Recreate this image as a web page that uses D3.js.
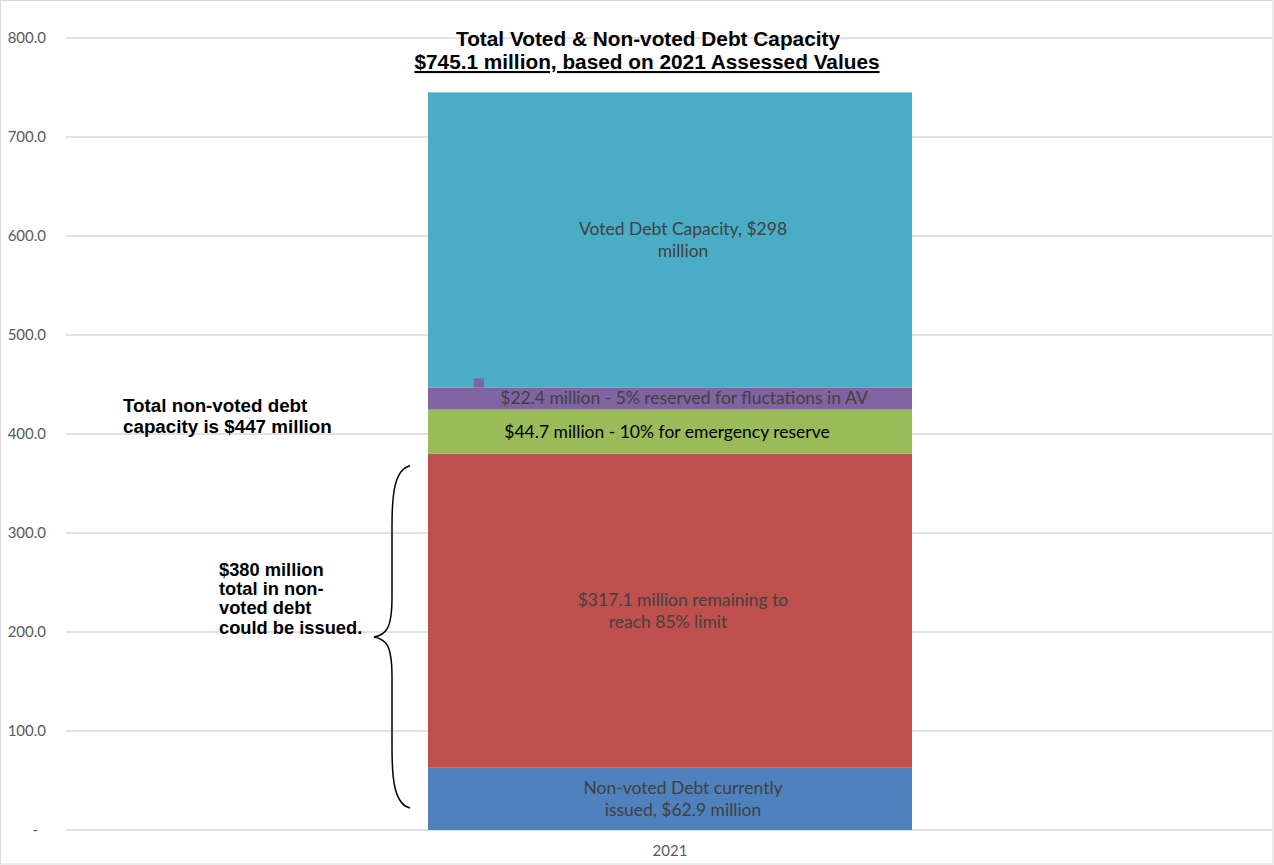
<!DOCTYPE html>
<html lang="en">
<head>
    <meta charset="UTF-8">
    <title>Total Voted & Non-voted Debt Capacity</title>
    <script src="https://d3js.org/d3.v7.min.js"></script>
    <style>
        body { margin: 0; background: #fff; }
        svg { display: block; }
    </style>
</head>
<body>
    <svg width="1274" height="865"></svg>
    <script>
        // Daten (Millionen $)
        var categories = ["2021"];
        var segmentNames = ["Non-voted Debt currently issued", "Remaining to 85% limit", "Emergency reserve", "AV fluctuations", "Voted Debt Capacity"];
        var segmentValues = [62.9, 317.1, 44.7, 22.4, 298.0];
        var segmentColors = ["#4F81BD", "#C0504D", "#9BBB59", "#8064A2", "#4BACC6"];
        var segmentLabels = [
            ["Non-voted Debt currently", "issued, $62.9 million"],
            ["$317.1 million remaining to", "reach 85% limit"],
            ["$44.7 million - 10% for emergency reserve"],
            ["$22.4 million - 5% reserved  for fluctations in AV"],
            ["Voted Debt Capacity, $298", "million"]
        ];
        var yTicks = [0, 100, 200, 300, 400, 500, 600, 700, 800];
        var titleLines = ["Total Voted & Non-voted Debt Capacity", "$745.1 million, based on 2021 Assessed Values"];

        var svg = d3.select("svg");
        var W = 1274, H = 865;

        // Rahmen
        svg.append("rect")
            .attr("x", 0.5).attr("y", 0.5)
            .attr("width", W - 1.5).attr("height", H - 1.5)
            .attr("fill", "#fff").attr("stroke", "#d9d9d9");

        var x = d3.scaleBand().domain(categories).range([65, 1275])
            .paddingInner(0).paddingOuter(0.75);
        var y = d3.scaleLinear().domain([0, 800]).range([830, 38]);

        // Gitterlinien
        svg.append("g").selectAll("line")
            .data(yTicks).enter().append("line")
            .attr("x1", 66).attr("x2", 1272)
            .attr("y1", function(d) { return y(d); })
            .attr("y2", function(d) { return y(d); })
            .attr("stroke", "#d9d9d9").attr("stroke-width", 1.5);

        // Y-Achse
        var yAxis = svg.append("g")
            .attr("transform", "translate(46,0)")
            .call(d3.axisLeft(y).tickValues(yTicks).tickSize(0).tickPadding(0)
                .tickFormat(function(d) { return d === 0 ? "-" : d3.format(".1f")(d); }));
        yAxis.select(".domain").remove();
        yAxis.selectAll("text")
            .attr("font-family", "Lato, 'Open Sans', sans-serif")
            .attr("font-size", 15).attr("fill", "#595959")
            .attr("dx", function(d) { return d === 0 ? -8 : 0; });

        // X-Achse
        var xAxis = svg.append("g")
            .attr("transform", "translate(0,830)")
            .call(d3.axisBottom(x).tickSize(0).tickPadding(15));
        xAxis.select(".domain").remove();
        xAxis.selectAll("text")
            .attr("font-family", "Lato, 'Open Sans', sans-serif")
            .attr("font-size", 15).attr("fill", "#595959");

        // Gestapelte Balken
        var stackData = [];
        var acc = 0;
        segmentValues.forEach(function(v, i) {
            stackData.push({ y0: acc, y1: acc + v, color: segmentColors[i], label: segmentLabels[i], i: i });
            acc += v;
        });

        svg.append("g").selectAll("rect")
            .data(stackData).enter().append("rect")
            .attr("x", x(categories[0]))
            .attr("width", x.bandwidth())
            .attr("y", function(d) { return y(d.y1); })
            .attr("height", function(d) { return y(d.y0) - y(d.y1); })
            .attr("fill", function(d) { return d.color; });

        // kleines Kästchen über dem lila Segment
        var purple = stackData[3];
        svg.append("rect")
            .attr("x", x(categories[0]) + 46)
            .attr("y", y(purple.y1) - 9)
            .attr("width", 10).attr("height", 9)
            .attr("fill", purple.color);

        // Beschriftungen der Segmente
        var lineDx = [[13, 13], [13, -2], [-3], [14], [13, 13]];
        var cx = x(categories[0]) + x.bandwidth() / 2;
        var lbl = svg.append("g")
            .attr("font-family", "Lato, 'Open Sans', sans-serif")
            .attr("font-size", 17.5)
            .attr("text-anchor", "middle");
        stackData.forEach(function(d) {
            var mid = (y(d.y0) + y(d.y1)) / 2;
            var n = d.label.length;
            d.label.forEach(function(line, j) {
                lbl.append("text")
                    .attr("x", cx + lineDx[d.i][j])
                    .attr("y", mid + (j - (n - 1) / 2) * 22.5 + 6)
                    .attr("fill", d.i === 2 ? "#000" : "#404040")
                    .text(line);
            });
        });

        // Titel
        var title = svg.append("g")
            .attr("font-family", "'Liberation Sans', Arial, sans-serif")
            .attr("font-weight", "bold")
            .attr("font-size", 20.8)
            .attr("text-anchor", "middle")
            .attr("fill", "#000");
        title.append("text").attr("x", 648).attr("y", 46).text(titleLines[0]);
        title.append("text").attr("x", 647).attr("y", 69)
            .attr("text-decoration", "underline").text(titleLines[1]);

        // Anmerkungen links
        var note = svg.append("g")
            .attr("font-family", "'Liberation Sans', Arial, sans-serif")
            .attr("font-weight", "bold")
            .attr("fill", "#000");
        note.append("text").attr("x", 123).attr("y", 412).attr("font-size", 18.8).text("Total non-voted debt");
        note.append("text").attr("x", 123).attr("y", 433).attr("font-size", 18.8).text("capacity is $447 million");
        ["$380 million", "total in non-", "voted debt", "could be issued."].forEach(function(t, i) {
            note.append("text").attr("x", 219).attr("y", 576 + i * 19.2).attr("font-size", 18.3).text(t);
        });

        // geschweifte Klammer neben dem 380-Block
        var bTop = y(380) + 12, bBot = y(0) - 22, bMid = (bTop + bBot) / 2;
        var bx = 392, tipX = 410, pointX = 374;
        svg.append("path")
            .attr("d",
                "M" + tipX + "," + bTop +
                " C" + (bx + 2) + "," + (bTop + 4) + " " + bx + "," + (bTop + 30) + " " + bx + "," + (bTop + 60) +
                " L" + bx + "," + (bMid - 40) +
                " C" + bx + "," + (bMid - 8) + " " + (bx - 6) + "," + (bMid - 2) + " " + pointX + "," + bMid +
                " C" + (bx - 6) + "," + (bMid + 2) + " " + bx + "," + (bMid + 8) + " " + bx + "," + (bMid + 40) +
                " L" + bx + "," + (bBot - 60) +
                " C" + bx + "," + (bBot - 30) + " " + (bx + 2) + "," + (bBot - 4) + " " + tipX + "," + bBot)
            .attr("fill", "none").attr("stroke", "#000").attr("stroke-width", 1.5);
    </script>
</body>
</html>
